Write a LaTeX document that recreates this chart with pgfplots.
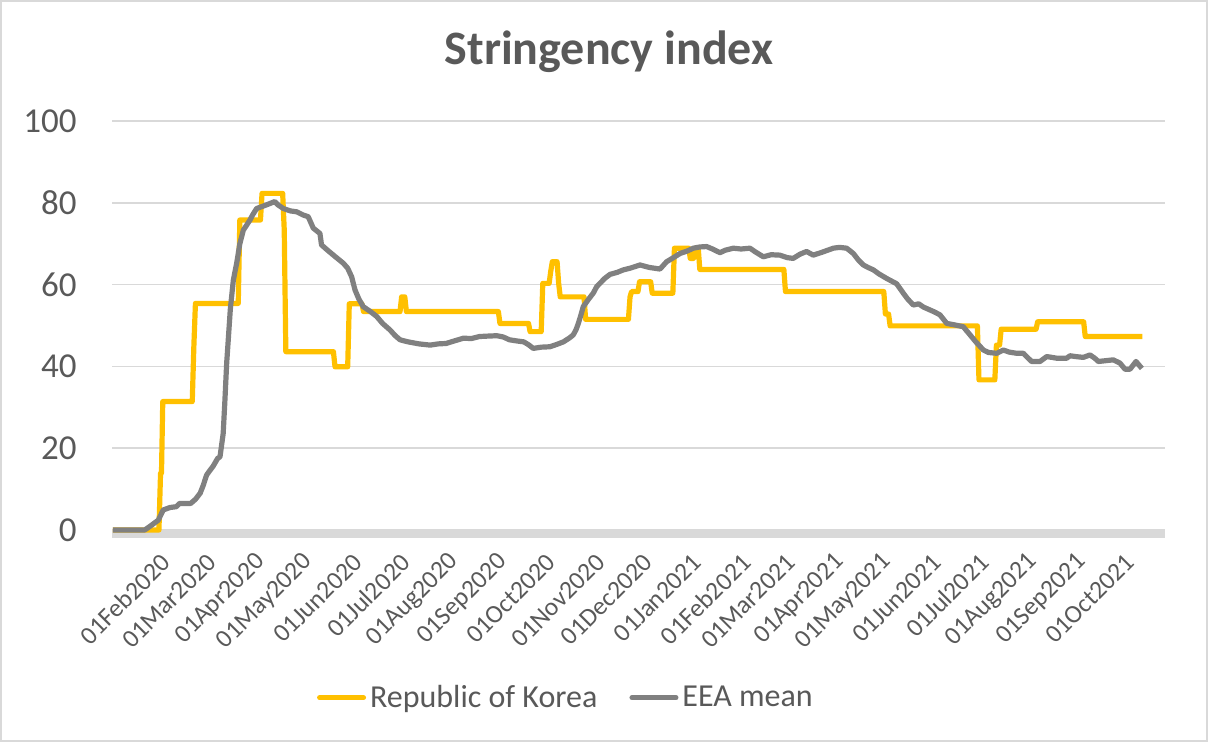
\documentclass[border=0pt]{standalone}
\usepackage{fontspec}
\setmainfont{Carlito}
\usepackage{pgfplots}
\pgfplotsset{compat=1.18}
\definecolor{kor}{HTML}{FFC000}
\definecolor{eea}{HTML}{808080}
\definecolor{gridc}{HTML}{D9D9D9}
\definecolor{txt}{HTML}{595959}
\begin{document}
\begin{tikzpicture}
\path[use as bounding box] (0,0) rectangle (604pt,371pt);
\draw[gridc, line width=0.75pt] (0.6pt,0.6pt) rectangle (603.4pt,370.4pt);
\node[font=\bfseries\fontsize{24}{28}\selectfont, text=txt] at (304.5pt,345pt) {Stringency index};
\begin{axis}[
  at={(56pt,106pt)}, anchor=south west, scale only axis,
  width=526.5pt, height=204.5pt,
  xmin=-0.6, xmax=663.3, ymin=0, ymax=100,
  clip=false,
  /pgf/number format/assume math mode=true,
  axis line style={draw=none},
  major tick length=0pt, tick style={draw=none},
  ytick={0,20,40,60,80,100},
  ymajorgrids, grid style={gridc, line width=0.75pt},
  yticklabel style={font=\fontsize{17.5}{20}\selectfont, text=txt, anchor=east, inner sep=0pt, xshift=-17.5pt},
  xtick={31,60,91,121,152,182,213,244,274,305,335,366,397,425,456,486,517,547,578,609,639},
  xticklabels={01Feb2020,01Mar2020,01Apr2020,01May2020,01Jun2020,01Jul2020,01Aug2020,01Sep2020,01Oct2020,01Nov2020,01Dec2020,01Jan2021,01Feb2021,01Mar2021,01Apr2021,01May2021,01Jun2021,01Jul2021,01Aug2021,01Sep2021,01Oct2021},
  xticklabel style={xshift=2pt, yshift=-14pt, rotate=45, anchor=east, inner sep=0pt, font=\fontsize{12.8}{15}\selectfont, text=txt},
  legend style={at={(0.432,-0.41)}, anchor=center, draw=none, fill=none, font=\fontsize{16}{19}\selectfont, text=txt, legend columns=2, /tikz/every even column/.append style={column sep=14pt}},
  legend image code/.code={\draw[#1, line width=2.5pt, line cap=round] (0pt,0pt) -- (22pt,0pt);},
]
\draw[gridc, line width=4pt] ([yshift=-2pt]axis cs:-0.6,0) -- ([yshift=-2pt]axis cs:663.3,0);
\addplot[kor, line width=2.6pt, line join=round] coordinates {
(0,0) (29,0) (30,13.9) (30.6,13.9) (31.4,31.4) (50,31.4) (51,44.8) (52,55.4) (79,55.4) (80,75.8) (93,75.8) (94,82.3) (107,82.3) (108,73.3) (109,43.6) (139,43.6) (140,39.9) (148,39.9) (149,55.3) (157,55.3) (158,53.4) (181,53.4) (182,57.0) (184,57.0) (185,53.4) (243,53.4) (244,50.5) (262,50.5) (263,48.5) (270,48.5) (271,60.3) (275,60.3) (276,63.2) (277,65.6) (280,65.6) (281,60.3) (282,57.0) (297,57.0) (298,51.5) (325,51.5) (326,57.0) (327,58.3) (331,58.3) (332,60.7) (339,60.7) (340,57.9) (353,57.9) (354,68.9) (363,68.9) (364,66.4) (366,66.4) (367,68.9) (369,68.9) (370,63.7) (423,63.7) (424,58.3) (486,58.3) (487,52.8) (489,52.8) (490,49.9) (545,49.9) (546,36.7) (556,36.7) (557,45.2) (559,45.2) (560,49.1) (582,49.1) (583,50.9) (612,50.9) (613,47.3) (649,47.3)
};
\addlegendentry{Republic of Korea}
\addplot[eea, line width=2.6pt, line join=round] coordinates {
(0,0) (20,0) (23,0.8) (28.6,2.4) (31.7,4.9) (36,5.5) (40,5.7) (42,6.5) (49,6.5) (52,7.5) (55,9.0) (57,11) (59,13.4) (61,14.5) (63,15.5) (66,17.5) (67.5,17.9) (69.5,23.6) (70.5,31) (71.7,40.8) (72.7,46.5) (74,54) (75.9,61.1) (78,65.2) (80,70) (82.2,73.3) (86.4,75.8) (88,77) (90.6,78.6) (96.9,79.5) (102,80.3) (104,79.5) (107.4,78.6) (112,78) (115.8,77.8) (120,77) (123.1,76.6) (126.3,73.8) (130.5,72.5) (131.5,69.7) (135,68.5) (139,67.2) (145.3,65.2) (148,64) (150.5,61.9) (152.6,58.7) (155,56.5) (157.8,54.6) (162,53.5) (166.3,52.2) (170,50.5) (174.7,48.9) (178,47.5) (181,46.5) (186,46) (193,45.5) (200,45.2) (205,45.5) (210,45.6) (215,46.2) (221,46.9) (226,46.8) (231,47.3) (236,47.4) (242,47.5) (246,47.2) (250,46.5) (255,46.2) (259,46) (262,45.3) (265,44.4) (270,44.7) (275.5,44.8) (280,45.4) (284,46) (288,47) (290.2,47.7) (292,49) (293.4,50.5) (295,52.5) (296.5,54.6) (300,56.5) (302.8,57.9) (305,59.5) (307,60.3) (310,61.5) (313.4,62.5) (318,63) (321.8,63.6) (326,64) (332.3,64.8) (338,64.2) (344.9,63.8) (349.1,65.6) (353,66.5) (357.5,67.6) (362,68.2) (365.9,68.9) (370,69.2) (374.3,69.3) (378,68.7) (382.7,67.8) (386,68.4) (391.1,68.9) (396,68.7) (401.6,68.9) (405,68) (410,66.8) (415,67.3) (420.5,67.2) (425,66.6) (428.9,66.4) (433,67.4) (437.3,68.1) (441.5,67.2) (447,67.9) (454.2,68.9) (458,69.1) (462.6,68.9) (466.8,67.6) (470,66) (473.1,64.8) (476,64.2) (479.4,63.6) (483,62.6) (487.8,61.5) (494.1,60.2) (498.3,57.9) (501,56.5) (504.6,55.0) (508,55.3) (511,54.5) (515.1,53.8) (518,53.3) (521.4,52.6) (525.7,50.5) (530,50.2) (536.1,49.7) (538,48.8) (540.4,47.7) (544,46) (548.8,44.0) (552,43.4) (557.2,43.2) (561.4,44.0) (565,43.5) (569.8,43.2) (574,43.2) (576,42.4) (579.2,41.2) (584.5,41.2) (588.7,42.4) (592,42.2) (595,42.0) (601.3,42.0) (603.4,42.6) (607,42.4) (611.8,42.2) (616,42.8) (619,42) (621.3,41.2) (626,41.4) (630.7,41.6) (634.9,40.8) (638.1,39.3) (641.2,39.3) (645,41.2) (648.7,39.5)
};
\addlegendentry{EEA mean}
\end{axis}
\end{tikzpicture}
\end{document}
